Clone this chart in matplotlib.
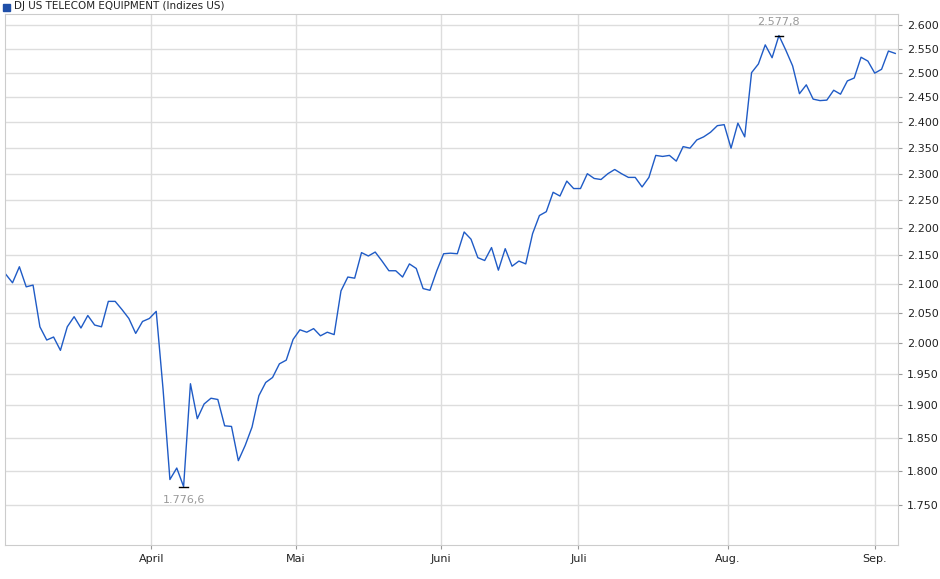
import matplotlib
matplotlib.use('Agg')
import matplotlib.pyplot as plt
from matplotlib.ticker import FixedLocator, NullLocator
import numpy as np

# Schlusskurse (Handelstage, Anfang März bis Anfang September)
values = [2117, 2102, 2130, 2095, 2098, 2027, 2005, 2010, 1988, 2027,
          2044, 2025, 2046, 2030, 2027, 2070, 2070, 2056, 2041, 2016,
          2036, 2041, 2053, 1925, 1787, 1804, 1776.6, 1934, 1879, 1902,
          1911, 1909, 1868, 1867, 1815, 1838, 1866, 1915, 1936, 1944,
          1966, 1972, 2006, 2022, 2018, 2024, 2012, 2018, 2014, 2088,
          2112, 2110, 2155, 2149, 2156, 2140, 2123, 2123, 2112, 2135,
          2127, 2092, 2089, 2123, 2153, 2154, 2153, 2192, 2179, 2146,
          2141, 2164, 2124, 2162, 2131, 2140, 2135, 2189, 2222, 2229,
          2265, 2258, 2286, 2272, 2272, 2300, 2291, 2289, 2300, 2308,
          2300, 2293, 2293, 2275, 2293, 2335, 2333, 2335, 2324, 2352,
          2349, 2365, 2371, 2380, 2393, 2395, 2349, 2398, 2371, 2500,
          2518, 2558, 2531, 2577.8, 2547, 2514, 2457, 2475, 2446, 2443,
          2444, 2464, 2456, 2483, 2489, 2532, 2524, 2499, 2507, 2545,
          2540]
months = ['April', 'Mai', 'Juni', 'Juli', 'Aug.', 'Sep.']
month_pos = [21.3, 42.4, 63.6, 83.7, 105.5, 127.0]
yticks = [1750, 1800, 1850, 1900, 1950, 2000, 2050, 2100, 2150, 2200,
          2250, 2300, 2350, 2400, 2450, 2500, 2550, 2600]

fig = plt.figure(figsize=(9.4, 5.79), dpi=100)
ax = fig.add_axes([5/940, 34/579, 893/940, 531/579])
x = np.arange(len(values))
ax.plot(x, values, color='#1f5bc6', lw=1)
ax.set_yscale('log')
ax.set_ylim(1693, 2624)
ax.set_xlim(-0.1, len(values) - 0.6)

ax.yaxis.set_major_locator(FixedLocator(yticks))
ax.yaxis.set_minor_locator(NullLocator())
ax.set_yticklabels(['{:,}'.format(v).replace(',', '.') for v in yticks])
ax.yaxis.tick_right()
ax.set_xticks(month_pos)
ax.set_xticklabels(months)
ax.tick_params(labelsize=8, length=3, color='#999999', colors='#222222')
ax.grid(True, color='#dddddd', lw=1)
for s in ax.spines.values():
    s.set_color('#cccccc')

# Hoch / Tief markieren
imax = int(np.argmax(values))
imin = int(np.argmin(values))
for i, off, va in [(imax, 6, 'bottom'), (imin, -6, 'top')]:
    ax.plot([i - 0.6, i + 0.6], [values[i]] * 2, color='black', lw=1)
    ax.annotate('{:,.1f}'.format(values[i]).replace(',', 'X').replace('.', ',').replace('X', '.'),
                (i, values[i]), xytext=(0, off), textcoords='offset points',
                ha='center', va=va, fontsize=8, color='#999999')

fig.patches.append(plt.Rectangle((3/940, 1 - 11/579), 7/940, 7/579,
                                 transform=fig.transFigure, color='#1f4fa8'))
fig.text(14/940, 1 - 6/579, 'DJ US TELECOM EQUIPMENT (Indizes US)',
         fontsize=7.5, va='center', color='#222222')

fig.savefig('out.png', dpi=100)
